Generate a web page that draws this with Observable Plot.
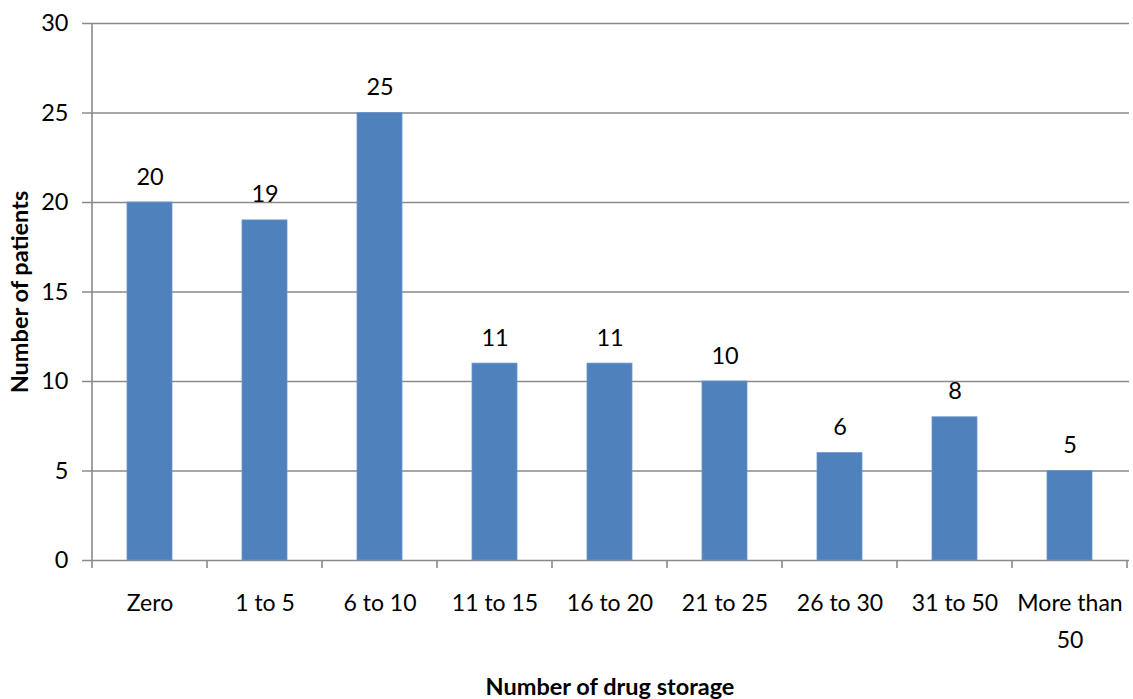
<!DOCTYPE html>
<html>
<head>
<meta charset="utf-8">
<script src="https://cdn.jsdelivr.net/npm/d3@7"></script>
<script src="https://cdn.jsdelivr.net/npm/@observablehq/plot@0.6"></script>
<style>
  html, body { margin: 0; padding: 0; background: #fff; }
  svg { display: block; }
</style>
</head>
<body>
<div id="chart"></div>
<script>
const categories = ["Zero", "1 to 5", "6 to 10", "11 to 15", "16 to 20", "21 to 25", "26 to 30", "31 to 50", "More than\n50"];
const patients = [20, 19, 25, 11, 11, 10, 6, 8, 5];
const yTicks = [0, 5, 10, 15, 20, 25, 30];
const xTitle = "Number of drug storage";
const yTitle = "Number of patients";

const data = categories.map((c, i) => ({category: c, value: patients[i]}));
const gray = "#8a8a8a";
const font = "Lato, 'Liberation Sans', sans-serif";

const chart = Plot.plot({
  width: 1133,
  height: 699,
  marginLeft: 90,
  marginRight: 4,
  marginTop: 23,
  marginBottom: 139,
  style: {fontFamily: font, fontSize: "23px", color: "#000", background: "#fff", overflow: "visible"},
  x: {domain: categories, paddingInner: 0.61, paddingOuter: 0.305, label: null},
  y: {domain: [0, 30], label: null},
  marks: [
    Plot.ruleY(yTicks, {stroke: gray, strokeWidth: 1.6, insetLeft: -8}),
    Plot.barY(data, {x: "category", y: "value", fill: "#4F81BD", stroke: "#6d96c9", strokeWidth: 0.8}),
    Plot.text(data, {x: "category", y: "value", text: d => String(d.value), lineAnchor: "bottom", dy: -18, fontSize: 23.5, fill: "#000"}),
    Plot.axisY(yTicks, {tickSize: 0, tickPadding: 22, fontSize: 23.5, fill: "#000", label: null}),
    Plot.axisX({tickSize: 0, tickPadding: 25, fontSize: 23, fill: "#000", lineHeight: 1.58, label: null}),
    Plot.text([yTitle], {frameAnchor: "left", textAnchor: "middle", lineAnchor: "middle", rotate: -90, dx: -70, fontWeight: "bold", fontSize: 23.5, fill: "#000"}),
    Plot.text([xTitle], {frameAnchor: "bottom", textAnchor: "middle", lineAnchor: "bottom", dy: 134, fontWeight: "bold", fontSize: 23.5, fill: "#000"})
  ]
});

// axis line and category boundary ticks, positioned with Plot's own scales
const sx = chart.scale("x");
const sy = chart.scale("y");
const svg = d3.select(chart.tagName.toLowerCase() === "svg" ? chart : chart.querySelector("svg"));
const y0 = sy.apply(0), yTop = sy.apply(30);
const boundaries = categories.map(c => sx.apply(c) + sx.bandwidth / 2 - sx.step / 2);
boundaries.push(sx.apply(categories[categories.length - 1]) + sx.bandwidth / 2 + sx.step / 2);
const g = svg.append("g").attr("stroke", gray).attr("stroke-width", 1.6);
g.append("line").attr("x1", boundaries[0]).attr("x2", boundaries[0]).attr("y1", yTop).attr("y2", y0 + 8);
boundaries.slice(1).forEach(x => {
  g.append("line").attr("x1", x).attr("x2", x).attr("y1", y0).attr("y2", y0 + 8);
});

document.getElementById("chart").appendChild(chart);
</script>
</body>
</html>
